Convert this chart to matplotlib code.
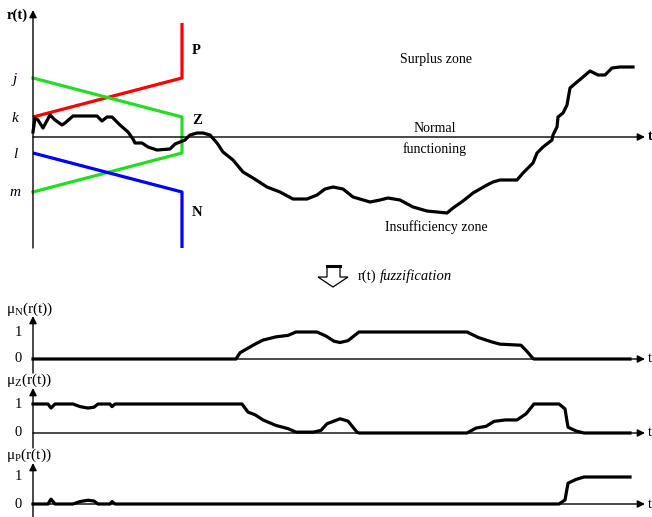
import numpy as np
import matplotlib
matplotlib.use('Agg')
import matplotlib.pyplot as plt
from matplotlib.patches import Polygon

plt.rcParams['font.family'] = ['Liberation Serif', 'DejaVu Serif']
plt.rcParams['mathtext.fontset'] = 'stix'

# r(t) trajectory (t in time units, r relative to the normal level)
t_r = [0, 2, 5, 10, 17, 22, 29, 32, 40, 64, 69, 74, 79, 87, 95, 100, 102, 109, 115, 124,
       137, 142, 147, 152, 157, 164, 170, 177, 184, 190, 200, 210, 220, 234, 247, 260, 274, 284, 292, 300,
       310, 320, 337, 347, 355, 367, 380, 394, 414, 420, 430, 440, 454, 460, 467, 484, 490, 500, 504, 510,
       519, 520, 524, 525, 530, 534, 537, 544, 550, 557, 565, 572, 579, 587, 600]
r_vals = [5, 19, 17, 9, 22, 17, 12, 14, 21, 21, 16, 20, 20, 12, 5, -2, -6, -6, -10, -13,
          -12, -7, -5, -3, 2, 4, 4, 2, -6, -15, -23, -35, -41, -50, -55, -62, -62, -58, -52, -50,
          -52, -60, -65, -63, -61, -63, -70, -74, -76, -71, -64, -56, -48, -45, -43, -43, -36, -26, -16, -10,
          -3, 2, 10, 20, 24, 32, 49, 55, 60, 66, 62, 62, 69, 70, 70]

# membership function levels
lvl_j, lvl_k, lvl_l, lvl_m = 59, 20, -16, -55
t_mf = 149          # where the membership sketch ends
p_top, n_bot = 114, -111

# fuzzified memberships
t_N = [0, 203, 207, 213, 222, 230, 243, 255, 263, 284, 293, 301, 307, 315, 326, 434, 445, 459, 467, 488, 494, 500, 501, 597]
mu_N = [0, 0, 0.23, 0.36, 0.55, 0.70, 0.82, 0.875, 1, 1, 0.85, 0.66, 0.61, 0.68, 1, 1, 0.80, 0.63, 0.55, 0.51, 0.28, 0.02, 0, 0]

t_Z = [0, 15, 18, 22, 40, 47, 55, 61, 65, 77, 79, 82, 209, 215, 222, 230, 243, 255, 263, 280, 288, 294, 301, 307,
       315, 324, 326, 434, 443, 453, 461, 472, 484, 493, 501, 526, 532, 535, 543, 551, 597]
mu_Z = [1, 1, 0.86, 1, 1, 0.91, 0.86, 0.89, 1, 1, 0.91, 1, 1, 0.72, 0.63, 0.45, 0.26, 0.15, 0.03, 0.03, 0.09, 0.32, 0.41, 0.49,
        0.41, 0.03, 0, 0, 0.17, 0.23, 0.40, 0.45, 0.45, 0.66, 1, 1, 0.83, 0.2, 0.07, 0, 0]

t_P = [0, 15, 18, 22, 40, 47, 55, 61, 65, 77, 79, 82, 526, 532, 535, 543, 551, 597]
mu_P = [0, 0, 0.18, 0, 0, 0.09, 0.14, 0.11, 0, 0, 0.09, 0, 0, 0.15, 0.77, 0.91, 1, 1]

W, H = 652, 517
fig = plt.figure(figsize=(W / 100, H / 100), dpi=100)
T_END = 612


def panel(y_top, y_bot, zero_px, unit_px):
    ax = fig.add_axes([0, (H - y_bot) / H, 1, (y_bot - y_top) / H])
    ax.set_xlim(-33, W - 33)
    ax.set_ylim((zero_px - y_bot) / unit_px, (zero_px - y_top) / unit_px)
    ax.axis('off')
    return ax


def arrow(ax, x0, y0, x1, y1):
    ax.annotate('', xy=(x1, y1), xytext=(x0, y0),
                arrowprops=dict(arrowstyle='-|>', lw=1.0, color='black',
                                mutation_scale=11, shrinkA=0, shrinkB=0))


# ---- top panel ----
ax = panel(0, 260, 137, 1)
arrow(ax, 0, 0, T_END, 0)
arrow(ax, 0, n_bot, 0, 127)
ax.text(T_END + 3, 0, 't', ha='left', va='center', fontsize=10, fontweight='bold')
ax.text(-5, 122, 'r(t)', ha='right', va='center', fontsize=10.5, fontweight='bold')

ax.plot([0, t_mf, t_mf], [lvl_k, lvl_j, p_top], color='#ff0000', lw=2.3, solid_capstyle='butt')
ax.plot([0, t_mf, t_mf, 0], [lvl_j, lvl_k, lvl_l, lvl_m], color='#22dd22', lw=2.3)
ax.plot([0, t_mf, t_mf], [lvl_l, lvl_m, n_bot], color='#0000ff', lw=2.3, solid_capstyle='butt')
ax.plot(t_r, r_vals, color='black', lw=2.3)

for lab, lv in zip(['j', 'k', 'l', 'm'], [lvl_j, lvl_k, lvl_l, lvl_m]):
    ax.text(-18, lv - 1, lab, ha='center', va='center', fontsize=11, style='italic')
for lab, lv in zip(['P', 'Z', 'N'], [87, 17, -75]):
    ax.text(t_mf + 10, lv, lab, ha='left', va='center', fontsize=10.5, fontweight='bold')

ax.text(403, 78, 'Surplus zone', ha='center', va='center', fontsize=10)
ax.text(402, 9, 'Normal', ha='center', va='center', fontsize=10)
ax.text(402, -12, 'functioning', ha='center', va='center', fontsize=10)
ax.text(403, -90, 'Insufficiency zone', ha='center', va='center', fontsize=10)

# ---- fuzzification arrow ----
ov = fig.add_axes([0, 0, 1, 1])
ov.set_xlim(0, W)
ov.set_ylim(H, 0)
ov.axis('off')
ov.add_patch(Polygon([(327, 266), (340, 266), (340, 277), (348, 277), (333, 287), (318, 277), (327, 277)],
                     closed=True, fill=False, lw=0.9, ec='black'))
ov.plot([327, 340], [266, 266], color='black', lw=2.2)
ov.text(358, 276, 'r(t)', ha='left', va='center', fontsize=10.5)
ov.text(380, 276, 'fuzzification', ha='left', va='center', fontsize=10.5, style='italic')

# ---- membership panels ----
specs = [(300, 375, 359, 27, t_N, mu_N, 'N', 373, 316, 309),
         (376, 450, 433, 29, t_Z, mu_Z, 'Z', 448, 388, 380),
         (451, 517, 504, 27, t_P, mu_P, 'P', 517, 463, 455)]
for y_top, y_bot, zp, up, tt, mu, name, vb, vt, ly in specs:
    a = panel(y_top, y_bot, zp, up)
    arrow(a, 0, 0, T_END, 0)
    arrow(a, 0, (zp - vb) / up, 0, (zp - vt) / up)
    a.text(T_END + 3, 0, 't', ha='left', va='center', fontsize=10)
    a.text(-15, 1, '1', ha='center', va='center', fontsize=10.5)
    a.text(-15, 0, '0', ha='center', va='center', fontsize=10.5)
    a.text(-27, (zp - ly) / up, r'$\mathregular{μ_' + name + '}$(r(t))', ha='left', va='center', fontsize=11)
    a.plot(tt, mu, color='black', lw=2.3)

fig.savefig('out.png', dpi=100)
